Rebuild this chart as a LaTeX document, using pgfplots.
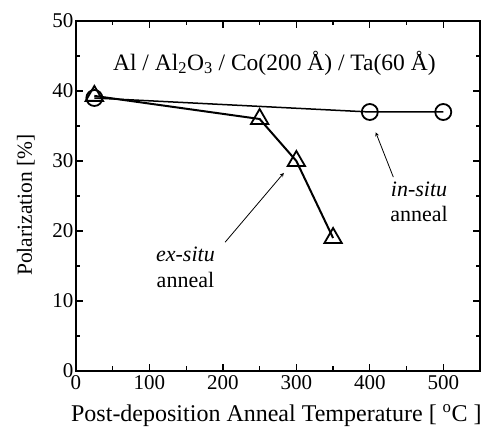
\documentclass[border=0pt]{standalone}
\usepackage{pgfplots}
\pgfplotsset{compat=1.18}
\usepackage{fontspec}
\setmainfont{Liberation Serif}
\begin{document}
\begin{tikzpicture}
\useasboundingbox (-76pt,-59pt) rectangle (411pt,371pt);
\begin{axis}[
  at={(0,0)}, anchor=south west,
  scale only axis,
  width=404pt, height=350pt,
  xmin=0, xmax=550, ymin=0, ymax=50,
  xtick={0,100,...,500}, ytick={0,10,...,50},
  minor x tick num=1, minor y tick num=1,
  tick align=inside,
  major tick length=7pt, minor tick length=4.5pt,
  tick style={line width=1.2pt, black},
  axis line style={line width=1.8pt},
  ticklabel style={font=\fontsize{21}{23}\selectfont},
  xticklabel style={yshift=-1.5pt},
  yticklabel style={xshift=1pt},
  /pgf/number format/assume math mode=true,
  xlabel={Post-deposition Anneal Temperature [ \textsuperscript{o}C ]},
  ylabel={Polarization [\%]},
  xlabel style={font=\fontsize{24}{26}\selectfont, anchor=base,
    at={(axis description cs:0.496,-0.143)}},
  ylabel style={font=\fontsize{21.5}{23}\selectfont, anchor=center,
    at={(axis description cs:-0.124,0.474)}},
  clip=false,
]
% ex-situ
\addplot[black, line width=2pt, mark=triangle,
  mark size=10pt, mark options={line width=1.8pt, fill=white}]
  coordinates {(25,39.3) (250,36) (300,30) (350,19)};
% in-situ
\addplot[black, line width=1.5pt, mark=o,
  mark size=8pt, mark options={line width=1.8pt, fill=white}]
  coordinates {(25,39) (400,37) (500,37)};

\node[font=\fontsize{23.5}{25}\selectfont] at (axis cs:270,44) {Al / Al\textsubscript{2}O\textsubscript{3} / Co(200 Å) / Ta(60 Å)};

\draw[-stealth, line width=0.8pt] (axis cs:432,27.7) -- (axis cs:408,34.1);
\node[font=\fontsize{22}{24}\selectfont\itshape] at (axis cs:467,25.9) {in-situ};
\node[font=\fontsize{22}{24}\selectfont] at (axis cs:467,22.4) {anneal};

\draw[-stealth, line width=0.8pt] (axis cs:203,18.4) -- (axis cs:283,28.3);
\node[font=\fontsize{22}{24}\selectfont\itshape] at (axis cs:149,16.6) {ex-situ};
\node[font=\fontsize{22}{24}\selectfont] at (axis cs:149,13.0) {anneal};
\end{axis}
\end{tikzpicture}
\end{document}
